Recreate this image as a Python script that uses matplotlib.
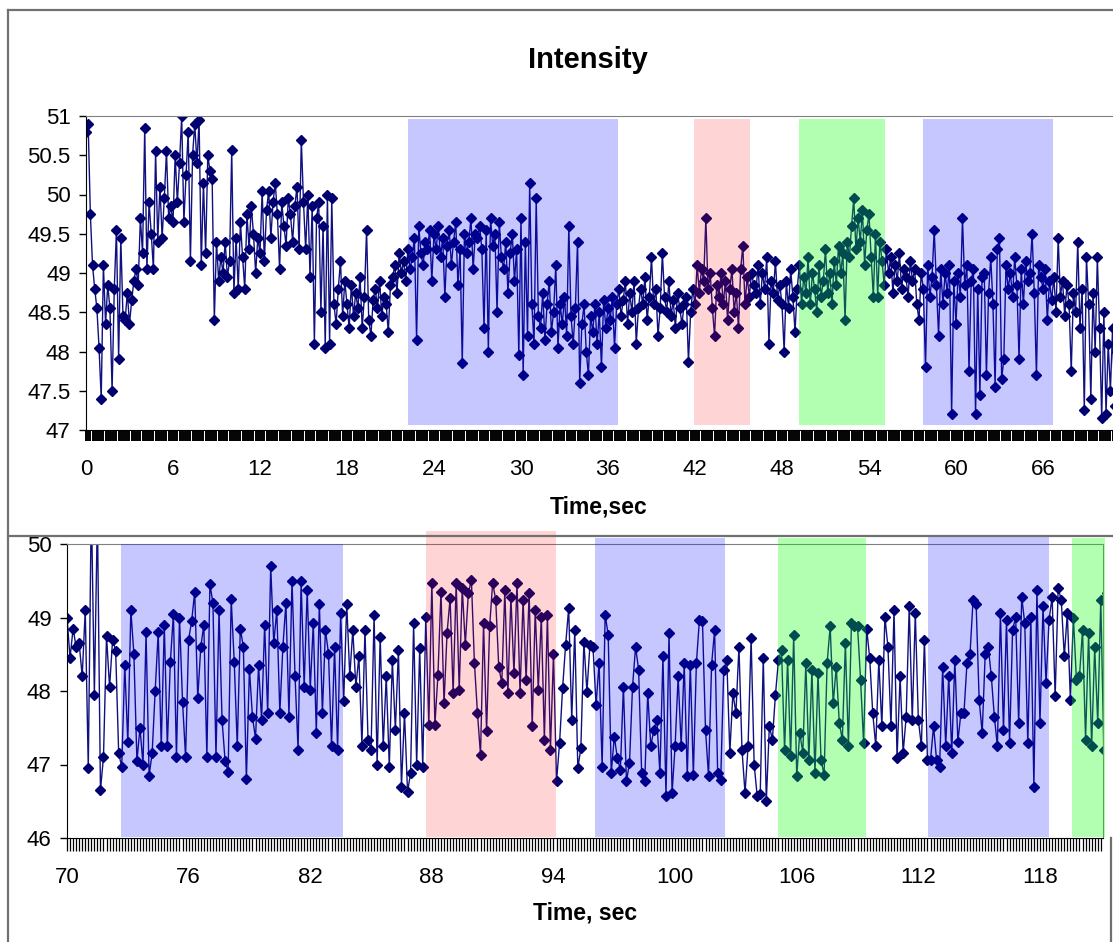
import numpy as np
import matplotlib.pyplot as plt
from matplotlib.lines import Line2D

plt.rcParams['font.family'] = ['Liberation Sans', 'DejaVu Sans']

# sampling step of the recording (s)
dt = 0.15

# first part of the recording, 0 .. ~71 s
top_vals = [
    50.8, 50.9, 49.75, 49.1, 48.8, 48.55, 48.05, 47.4, 49.1, 48.35, 48.85, 48.55, 47.5, 48.8, 49.55, 47.9, 49.45, 48.45, 48.4, 48.75,
    48.35, 48.65, 48.9, 49.05, 48.85, 49.7, 49.25, 50.85, 49.05, 49.9, 49.5, 49.05, 50.55, 49.4, 50.1, 49.45, 49.95, 50.55, 49.7, 49.85,
    49.65, 50.5, 49.9, 50.4, 51.0, 49.65, 50.25, 50.8, 49.15, 50.5, 50.9, 50.4, 50.95, 49.1, 50.15, 49.25, 50.5, 50.3, 50.2, 48.4,
    49.4, 48.9, 49.2, 49.0, 49.4, 48.95, 49.15, 50.57, 48.75, 49.45, 48.8, 49.65, 49.2, 48.8, 49.75, 49.3, 49.85, 49.5, 49.0, 49.45,
    49.25, 50.05, 49.15, 49.8, 50.05, 49.45, 49.9, 50.15, 49.75, 49.05, 49.9, 49.6, 49.35, 49.95, 49.75, 49.4, 49.85, 50.1, 49.3, 50.7,
    49.9, 49.3, 50.0, 48.95, 49.85, 48.1, 49.7, 49.9, 48.5, 49.6, 48.05, 50.0, 48.1, 49.95, 48.6, 48.35, 48.8, 49.15, 48.45, 48.9,
    48.6, 48.3, 48.85, 48.45, 48.75, 48.55, 48.95, 48.3, 48.7, 49.55, 48.4, 48.2, 48.65, 48.8, 48.55, 48.9, 48.45, 48.7, 48.6, 48.25,
    48.85, 48.95, 49.1, 48.75, 49.25, 49.0, 49.15, 48.9, 49.3, 49.05, 49.2, 49.45, 48.15, 49.6, 49.25, 49.1, 49.4, 49.3, 49.55, 48.9,
    49.5, 49.3, 49.6, 49.2, 49.45, 48.7, 49.35, 49.55, 49.1, 49.4, 49.65, 48.85, 49.3, 47.85, 49.5, 49.25, 49.4, 49.7, 49.05, 49.5,
    49.45, 49.6, 49.3, 48.3, 49.55, 48.0, 49.7, 49.35, 49.5, 48.5, 49.65, 49.2, 49.05, 49.4, 48.75, 49.25, 49.5, 48.9, 49.3, 47.95,
    49.7, 47.7, 49.4, 48.2, 50.15, 48.6, 48.1, 49.95, 48.45, 48.3, 48.75, 48.15, 48.6, 48.9, 48.25, 48.5, 49.1, 48.05, 48.6, 48.35,
    48.7, 48.2, 49.6, 48.45, 48.1, 48.55, 49.4, 47.6, 48.35, 48.6, 48.0, 47.7, 48.45, 48.25, 48.6, 48.1, 48.5, 47.8, 48.65, 48.3,
    48.55, 48.4, 48.7, 48.05, 48.6, 48.8, 48.45, 48.65, 48.9, 48.35, 48.75, 48.5, 48.9, 48.1, 48.55, 48.8, 48.6, 48.95, 48.4, 48.7,
    49.2, 48.6, 48.8, 48.2, 48.55, 49.25, 48.7, 48.5, 48.9, 48.45, 48.65, 48.3, 48.75, 48.55, 48.35, 48.6, 48.7, 47.87, 48.5, 48.8,
    48.6, 49.1, 48.75, 49.05, 48.9, 49.7, 48.8, 49.0, 48.55, 48.2, 48.85, 48.7, 49.0, 48.6, 48.9, 48.4, 48.8, 49.05, 48.5, 48.75,
    48.3, 49.05, 49.35, 48.6, 48.95, 48.7, 49.0, 48.85, 48.75, 49.1, 48.6, 49.0, 48.8, 49.2, 48.1, 48.9, 48.75, 49.15, 48.65, 48.85,
    48.6, 48.0, 48.9, 48.55, 49.05, 48.7, 48.25, 48.8, 49.1, 48.6, 48.95, 48.75, 49.2, 48.6, 49.0, 48.8, 48.5, 49.1, 48.7, 48.9,
    49.3, 48.75, 49.0, 48.6, 49.15, 48.85, 49.35, 49.0, 49.25, 48.4, 49.4, 49.2, 49.6, 49.95, 49.3, 49.7, 49.4, 49.8, 49.1, 49.55,
    49.75, 49.2, 48.7, 49.5, 48.7, 49.4, 49.15, 48.85, 49.3, 49.0, 49.2, 48.75, 49.1, 48.9, 49.25, 48.8, 49.05, 48.95, 48.7, 49.15,
    48.9, 49.05, 48.6, 48.4, 49.0, 48.8, 47.8, 49.1, 48.7, 48.95, 49.55, 48.85, 48.2, 49.05, 48.6, 49.0, 48.75, 49.1, 47.2, 48.9,
    48.35, 49.0, 48.7, 49.7, 48.85, 49.1, 47.75, 48.9, 49.05, 47.2, 48.8, 47.45, 48.95, 49.0, 47.7, 48.75, 49.2, 48.6, 47.55, 49.3,
    49.45, 47.65, 47.9, 49.1, 48.8, 49.0, 48.7, 49.2, 48.85, 47.9, 49.05, 48.6, 49.15, 48.9, 49.0, 49.5, 48.75, 47.7, 49.1, 48.95,
    48.8, 49.05, 48.4, 48.9, 48.65, 48.95, 48.5, 49.45, 48.7, 48.9, 48.45, 48.85, 48.6, 47.75, 48.75, 48.5, 49.4, 48.3, 48.8, 47.25,
    49.2, 48.6, 47.4, 48.75, 48.0, 49.2, 48.3, 47.15, 48.5, 47.2, 48.1, 47.5, 48.3, 47.3, 48.0, 47.6, 48.2, 47.45, 47.9, 47.7,
]

# second part of the recording, from 70 s on
bot_vals = [
    49.0, 48.45, 48.85, 48.6, 48.65, 48.2, 49.1, 46.95, 50.6, 47.95, 50.4, 46.65, 47.1, 48.75, 48.05, 48.7, 48.55, 47.15, 46.97, 48.35,
    47.3, 49.1, 48.5, 47.05, 47.5, 47.0, 48.8, 46.85, 47.15, 48.0, 48.8, 47.25, 48.9, 47.25, 48.4, 49.05, 47.1, 49.0, 47.85, 47.1,
    48.7, 48.95, 49.35, 47.9, 48.6, 48.9, 47.1, 49.45, 49.2, 47.1, 49.1, 47.6, 47.05, 46.9, 49.25, 48.4, 47.25, 48.85, 48.6, 46.8,
    48.3, 47.65, 47.35, 48.35, 47.6, 48.9, 47.7, 49.7, 48.65, 49.1, 47.7, 48.6, 49.2, 47.65, 49.5, 48.2, 47.2, 49.5, 48.06, 49.38,
    48.02, 48.92, 47.43, 49.19, 47.7, 48.83, 48.51, 47.25, 48.6, 47.2, 49.06, 47.86, 49.19, 48.2, 48.83, 48.06, 48.47, 47.25, 48.83, 47.34,
    47.2, 49.03, 47.0, 48.74, 47.25, 48.2, 46.97, 48.42, 47.47, 48.56, 46.7, 47.7, 46.63, 46.88, 48.92, 47.0, 48.58, 46.97, 49.01, 47.54,
    49.47, 47.54, 48.22, 49.35, 47.83, 48.79, 49.26, 47.97, 49.47, 48.02, 49.4, 48.63, 49.33, 49.51, 48.38, 47.7, 47.13, 48.92, 47.45, 48.88,
    49.47, 49.24, 48.33, 48.11, 49.37, 47.97, 49.28, 48.24, 49.47, 47.97, 49.24, 48.15, 49.33, 47.52, 49.1, 48.02, 49.01, 47.34, 49.03, 47.2,
    48.5, 46.77, 47.29, 48.04, 48.63, 49.13, 47.61, 48.83, 46.95, 47.22, 48.67, 47.99, 48.63, 48.6, 47.81, 48.38, 46.97, 49.04, 48.76, 46.88,
    47.38, 47.09, 46.93, 48.06, 46.77, 47.02, 48.06, 48.6, 48.29, 46.88, 46.77, 47.97, 47.25, 47.47, 47.61, 46.88, 48.47, 46.57, 48.79, 46.61,
    47.25, 48.2, 47.25, 48.38, 46.84, 48.36, 46.86, 48.38, 48.97, 48.95, 47.47, 46.84, 48.36, 48.83, 46.88, 46.79, 48.29, 48.42, 47.16, 47.97,
    47.7, 48.6, 47.2, 46.61, 47.25, 48.72, 47.0, 46.57, 46.6, 48.45, 46.5, 47.52, 47.34, 47.95, 48.42, 48.56, 47.2, 48.42, 47.11, 48.76,
    46.84, 47.43, 47.16, 48.38, 47.06, 48.29, 46.88, 48.24, 47.06, 46.86, 48.38, 48.88, 47.83, 48.33, 47.56, 47.34, 48.65, 47.25, 48.92, 48.88,
    48.88, 48.15, 47.29, 48.85, 48.45, 47.7, 47.25, 48.42, 47.52, 49.01, 48.6, 47.52, 49.1, 47.09, 48.2, 47.16, 47.65, 49.15, 47.61, 49.06,
    47.61, 47.25, 48.7, 47.06, 47.06, 47.52, 47.06, 46.97, 48.33, 47.25, 48.2, 47.16, 48.42, 47.31, 47.7, 47.7, 48.38, 48.51, 49.24, 49.19,
    47.88, 47.43, 48.51, 48.6, 48.2, 47.65, 47.25, 49.06, 47.47, 48.97, 47.29, 48.83, 49.01, 47.56, 49.28, 48.92, 47.29, 49.01, 46.7, 49.37,
    47.56, 49.15, 48.11, 48.97, 49.28, 47.93, 49.4, 49.24, 48.47, 49.06, 47.88, 49.0, 48.15, 48.2, 48.83, 47.34, 48.79, 47.25, 48.6, 47.56,
    49.24, 47.2, 49.33, 47.97, 47.7, 49.13, 48.65, 49.13, 47.88,
]

top_start, bot_start = 0, 70
top_ticks = [0, 6, 12, 18, 24, 30, 36, 42, 48, 54, 60, 66]
bot_ticks = [70, 76, 82, 88, 94, 100, 106, 112, 118]
top_yticks = [47, 47.5, 48, 48.5, 49, 49.5, 50, 50.5, 51]
bot_yticks = [46, 47, 48, 49, 50]

# stimulus periods (s) and their colour
top_spans = [(22.2, 36.7, 'blue'), (41.9, 45.8, 'red'), (49.2, 55.1, 'green'), (57.7, 66.7, 'blue')]
bot_spans = [(72.66, 83.6, 'blue'), (87.7, 94.1, 'red'), (96.05, 102.46, 'blue'),
             (105.1, 109.4, 'green'), (112.5, 118.45, 'blue'), (119.6, 121.2, 'green')]

span_col = {'blue': ('#0000ff', 0.22), 'red': ('#ff0000', 0.17), 'green': ('#00ff00', 0.30)}

t_top = top_start + np.arange(len(top_vals)) * dt
t_bot = bot_start + np.arange(len(bot_vals)) * dt

W, H = 1113, 942
fig = plt.figure(figsize=(W / 100, H / 100), dpi=100)

ax1 = fig.add_axes([86 / W, 1 - 430 / H, (W - 86) / W, 314 / H])
ax2 = fig.add_axes([67 / W, 1 - 838 / H, (1103 - 67) / W, 294 / H])

line_kw = dict(color='#101080', lw=1.0, marker='D', markersize=4.6,
               markerfacecolor='#000070', markeredgecolor='#000070', zorder=2)
ax1.plot(t_top, top_vals, **line_kw)
ax2.plot(t_bot, bot_vals, **line_kw)

for a, b, c in top_spans:
    col, al = span_col[c]
    ax1.axvspan(a, b, ymin=0.016, ymax=0.99, color=col, alpha=al, lw=0, zorder=3)

bot_tops = [1.0, 1.044, 1.02, 1.02, 1.03, 1.02]
for (a, b, c), yt in zip(bot_spans, bot_tops):
    col, al = span_col[c]
    ax2.axvspan(a, b, ymin=0.003, ymax=yt, color=col, alpha=al, lw=0, zorder=3, clip_on=False)

for ax, ticks, yt, tt in [(ax1, top_ticks, top_yticks, t_top), (ax2, bot_ticks, bot_yticks, t_bot)]:
    ax.set_xticks(ticks)
    ax.set_xticklabels([str(v) for v in ticks])
    ax.set_xticks(tt, minor=True)
    ax.set_yticks(yt)
    ax.set_yticklabels([f'{v:g}' for v in yt])
    ax.tick_params(axis='y', direction='out', length=5, width=1, pad=6, labelsize=16, colors='black')
    ax.tick_params(axis='y', which='minor', left=False)
    ax.spines['left'].set_color('black')
    ax.spines['bottom'].set_color('black')
    ax.spines['top'].set_color('#808080')
    ax.set_facecolor('white')

# limits after the ticks, so the category ticks do not widen the view
ax1.set_xlim(0, 70.83)
ax1.set_ylim(47, 51)
ax2.set_xlim(70, 121.11)
ax2.set_ylim(46, 50)

ax1.tick_params(axis='x', which='both', direction='out', length=8, width=1.4, pad=13, labelsize=16)
ax2.tick_params(axis='x', which='both', direction='out', length=9, width=0.9, pad=12, labelsize=16)
ax1.spines['right'].set_visible(False)
ax2.spines['right'].set_color('#808080')

fig.text(588 / W, 1 - 60 / H, 'Intensity', ha='center', va='center', fontsize=21, fontweight='bold')
fig.text(599 / W, 1 - 507 / H, 'Time,sec', ha='center', va='center', fontsize=16.5, fontweight='bold')
fig.text(585 / W, 1 - 913 / H, 'Time, sec', ha='center', va='center', fontsize=16.5, fontweight='bold')

# chart frames
frame = '#707070'
for (x0, y0), (x1, y1) in [((8, 10), (W, 10)), ((8, 10), (8, H)), ((8, 536), (W, 536)), ((1111, 838), (1111, H))]:
    fig.add_artist(Line2D([x0 / W, x1 / W], [1 - y0 / H, 1 - y1 / H], color=frame, lw=1.6,
                          transform=fig.transFigure))

fig.savefig('out.png', dpi=100)
